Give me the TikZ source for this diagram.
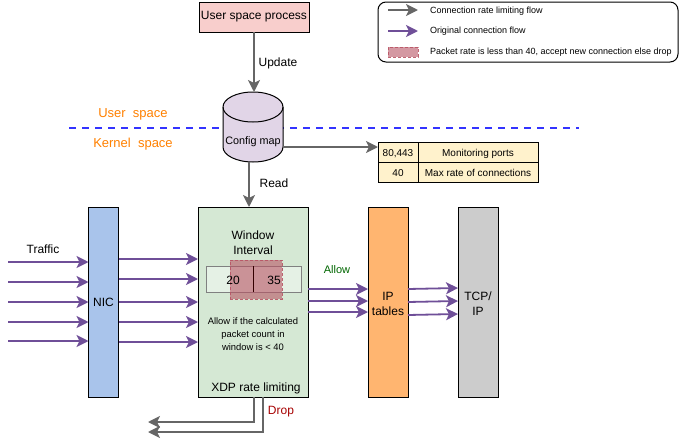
\documentclass[tikz,border=0pt]{standalone}
\usepackage{fontspec}
\setmainfont{Liberation Sans}
\usetikzlibrary{arrows.meta,calc}
\definecolor{flowgray}{HTML}{666666}
\definecolor{flowpurple}{HTML}{6F4F98}
\definecolor{sepblue}{HTML}{3333FF}
\definecolor{uspfill}{HTML}{F8CECC}
\definecolor{cfgfill}{HTML}{E1D5E7}
\definecolor{tblfill}{HTML}{FFF2CC}
\definecolor{nicfill}{HTML}{A9C4EB}
\definecolor{xdpfill}{HTML}{D5E8D4}
\definecolor{ipfill}{HTML}{FFB570}
\definecolor{tcpfill}{HTML}{CCCCCC}
\definecolor{ratefill}{HTML}{B85464}
\definecolor{spaceorange}{HTML}{FF8000}
\tikzset{
  x=1pt,y=-1pt,
  every node/.style={font=\fontsize{12}{14}\selectfont,inner sep=0pt,outer sep=0pt,align=center},
  boxnode/.style={draw=black,line width=1pt,minimum width=#1,minimum height=190pt},
  grayflow/.style={draw=flowgray,line width=2pt,-{Stealth[length=12pt,width=12pt,inset=3pt]}},
  purpleflow/.style={draw=flowpurple,line width=1.8pt,-{Stealth[length=12pt,width=12pt,inset=3pt]}},
  sepline/.style={draw=sepblue,line width=2pt,dash pattern=on 7pt off 6pt},
  smalltext/.style={font=\fontsize{9.4}{13}\selectfont},
  legendtext/.style={font=\fontsize{9}{11}\selectfont,anchor=west},
  ratebox/.style={draw=ratefill,densely dashed,line width=.7pt,fill=ratefill,fill opacity=.6,draw opacity=.9},
  cellbox/.style={draw=black,line width=1pt,fill=tblfill,font=\fontsize{10}{12}\selectfont,minimum height=20pt,text height=11pt,text depth=1.6pt},
}
\begin{document}
\begin{tikzpicture}
\useasboundingbox (0,0) rectangle (689,442);

% user/kernel separator
\coordinate (sepL) at (69,127.5);
\coordinate (sepR) at (579,127.5);
\draw[sepline] (sepL) -- (sepR);
\node[text=spaceorange,font=\fontsize{13}{15}\selectfont] (ulabel) at (133,114) {User\ \ space};
\node[text=spaceorange,font=\fontsize{13}{15}\selectfont] (klabel) at (133,144) {Kernel\ \ space};

% user process
\node[draw=black,line width=1pt,fill=uspfill,minimum width=110pt,minimum height=30pt] (usp) at (254,17) {User space process};

% config map cylinder
\draw[line width=1pt,fill=cfgfill] (223,107) -- (223,147) arc[start angle=180,end angle=360,x radius=30,y radius=-15] -- (283,107) arc[start angle=0,end angle=180,x radius=30,y radius=-15] -- cycle;
\draw[line width=1pt] (223,107) arc[start angle=180,end angle=360,x radius=30,y radius=-15];
\node[font=\fontsize{10.8}{13}\selectfont] (cfgt) at (253,141.5) {Config map};

% config table
\node[cellbox,minimum width=40pt,anchor=north west] (c11) at (378,142) {80,443};
\node[cellbox,minimum width=120pt,anchor=north west] (c12) at (418,142) {Monitoring ports};
\node[cellbox,minimum width=40pt,anchor=north west] (c21) at (378,162) {40};
\node[cellbox,minimum width=120pt,anchor=north west] (c22) at (418,162) {Max rate of connections};

% main boxes
\node[boxnode=30pt,fill=nicfill] (nic) at (103.5,302) {NIC};
\node[boxnode=110pt,fill=xdpfill] (xdp) at (253,302) {};
\node[boxnode=40pt,fill=ipfill] (ipt) at (388,302) {};
\node[boxnode=40pt,fill=tcpfill] (tcp) at (478,302) {};
\node (iptt) at (388,303.5) {IP\\[1pt]tables};
\node (tcpt) at (478,303.5) {TCP/\\[1pt]IP};

% window interval
\node (wint) at (253,243) {Window\\[1pt]Interval};
\node[draw=black!50,line width=.8pt,fill=white,fill opacity=.4,minimum width=95pt,minimum height=26pt] (win) at (253.5,279) {};
\node[ratebox,minimum width=52pt,minimum height=39pt] (rate) at (256,279.5) {};
\draw[line width=.8pt,draw=black!80!red] (253,266) -- (253,292);
\node (n20) at (233,280) {20};
\node (n35) at (274,280) {35};
\node[smalltext] (allow) at (253,334) {Allow if the calculated\\packet count in\\window is < 40};
\node (xdpt) at (256,388) {XDP rate limiting};

% labels
\node (update) at (278,63) {Update};
\node (read) at (274,183) {Read};
\node (traffic) at (43,249) {Traffic};
\node[text=green!40!black,font=\fontsize{11}{13}\selectfont] (allowl) at (337,270) {Allow};
\node[text=red!65!black] (dropl) at (281,412) {Drop};

% gray flows
\draw[grayflow] (usp.south) -- (254,92);
\draw[grayflow] (249,162) -- (xdp.north -| 249,0);
\draw[grayflow] (283,147) -- (c11.north west |- 0,147);
\coordinate (dropA) at (148,422);
\coordinate (dropB) at (148,432);
\draw[grayflow] ([xshift=1pt]xdp.south) |- (dropA);
\draw[grayflow] ([xshift=10pt]xdp.south) |- (dropB);

% purple flows
\foreach \i/\yy in {1/262,2/282,3/302,4/322,5/341}{
  \coordinate (in\i) at (8,\yy);
  \draw[purpleflow] (in\i) -- (nic.west |- in\i);
}
\foreach \yy in {259,279,302,322,342}{
  \draw[purpleflow] (nic.east |- 0,\yy) -- (xdp.west |- 0,\yy);
}
\foreach \yy in {289,301,312}{
  \draw[purpleflow] (xdp.east |- 0,\yy) -- (ipt.west |- 0,\yy);
}
\foreach \ya/\yb in {289/288,302/301,315/314}{
  \draw[purpleflow] (ipt.east |- 0,\ya) -- (tcp.west |- 0,\yb);
}

% legend
\node[draw=black,line width=1pt,rounded corners=8pt,minimum width=300pt,minimum height=60pt] (legend) at (528,32) {};
\coordinate (l1a) at (388,10); \coordinate (l1b) at (418,10);
\coordinate (l2a) at (388,31); \coordinate (l2b) at (418,31);
\draw[grayflow] (l1a) -- (l1b);
\draw[purpleflow] (l2a) -- (l2b);
\node[ratebox,minimum width=30pt,minimum height=10pt] (swatch) at (403,52) {};
\node[legendtext] (lt1) at (430,11) {Connection rate limiting flow};
\node[legendtext] (lt2) at (430,31.5) {Original connection flow};
\node[legendtext] (lt3) at (430,52) {Packet rate is less than 40, accept new connection else drop};
\end{tikzpicture}
\end{document}
